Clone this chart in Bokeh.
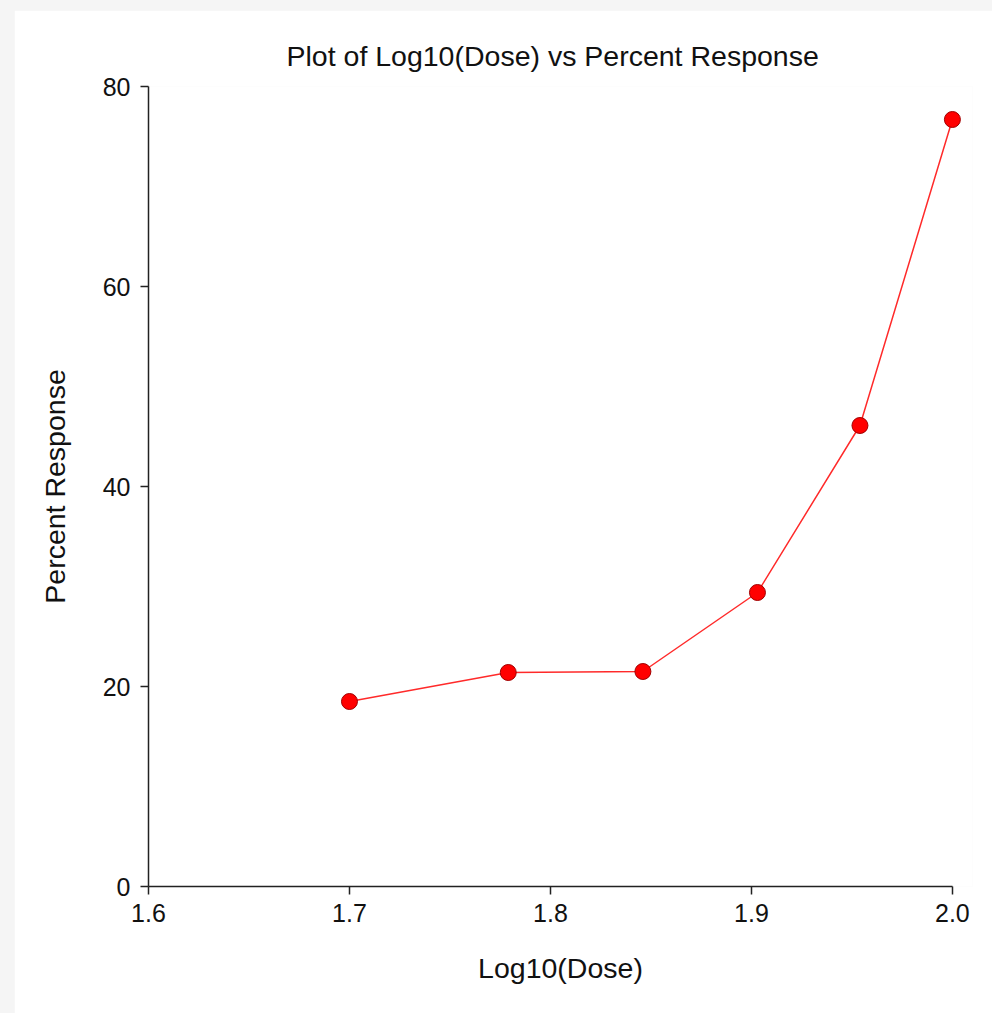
from bokeh.plotting import figure
from bokeh.models import FixedTicker, ColumnDataSource, PrintfTickFormatter
from bokeh.layouts import column
from bokeh.embed import file_html
from bokeh.resources import INLINE

# data
log_dose = [1.700, 1.779, 1.846, 1.903, 1.954, 2.0]
pct_response = [18.5, 21.4, 21.5, 29.4, 46.1, 76.7]
x_ticks = [1.6, 1.7, 1.8, 1.9, 2.0]
y_ticks = [0, 20, 40, 60, 80]

FONT = "Liberation Sans"
TXT = "#111111"

p = figure(width=978, height=1003, x_range=(1.6, 2.01), y_range=(0, 80),
           output_backend="svg", toolbar_location=None,
           title="Plot of Log10(Dose) vs Percent Response",
           min_border_left=134, min_border_right=20, min_border_top=76, min_border_bottom=127)
p.margin = (10, 0, 0, 14)
p.background_fill_color = "white"
p.border_fill_color = "white"
p.outline_line_color = None
p.grid.visible = False

p.title.text_font = FONT
p.title.text_font_size = "28.5px"
p.title.text_font_style = "normal"
p.title.text_color = TXT
p.title.align = "left"
p.title.standoff = 29
p.title.offset = 138

for ax in (p.xaxis[0], p.yaxis[0]):
    ax.axis_line_color = "#222222"
    ax.axis_line_width = 1.5
    ax.major_tick_line_color = "#222222"
    ax.major_tick_line_width = 1.5
    ax.major_tick_out = 8
    ax.major_tick_in = 0
    ax.minor_tick_line_color = None
    ax.major_label_text_font = FONT
    ax.major_label_text_font_size = "25px"
    ax.major_label_text_color = TXT
    ax.axis_label_text_font = FONT
    ax.axis_label_text_font_size = "28.5px"
    ax.axis_label_text_font_style = "normal"
    ax.axis_label_text_color = TXT

p.xaxis.ticker = FixedTicker(ticks=x_ticks)
p.yaxis.ticker = FixedTicker(ticks=y_ticks)
p.xaxis.formatter = PrintfTickFormatter(format="%.1f")
p.xaxis.bounds = (1.6, 2.0)
p.xaxis.axis_label = "Log10(Dose)"
p.yaxis.axis_label = "Percent Response"
p.xaxis.major_label_standoff = 9
p.yaxis.major_label_standoff = 10
p.xaxis.axis_label_standoff = 27
p.yaxis.axis_label_standoff = 29

src = ColumnDataSource(data=dict(x=log_dose, y=pct_response))
p.line("x", "y", source=src, line_color="#ff2a2a", line_width=1.5)
p.scatter("x", "y", source=src, size=16, fill_color="#ff0000", line_color="#a00000", line_width=1)

layout = column(p, styles={"background-color": "#f5f5f5"})
open("out.html", "w").write(file_html(layout, INLINE))
